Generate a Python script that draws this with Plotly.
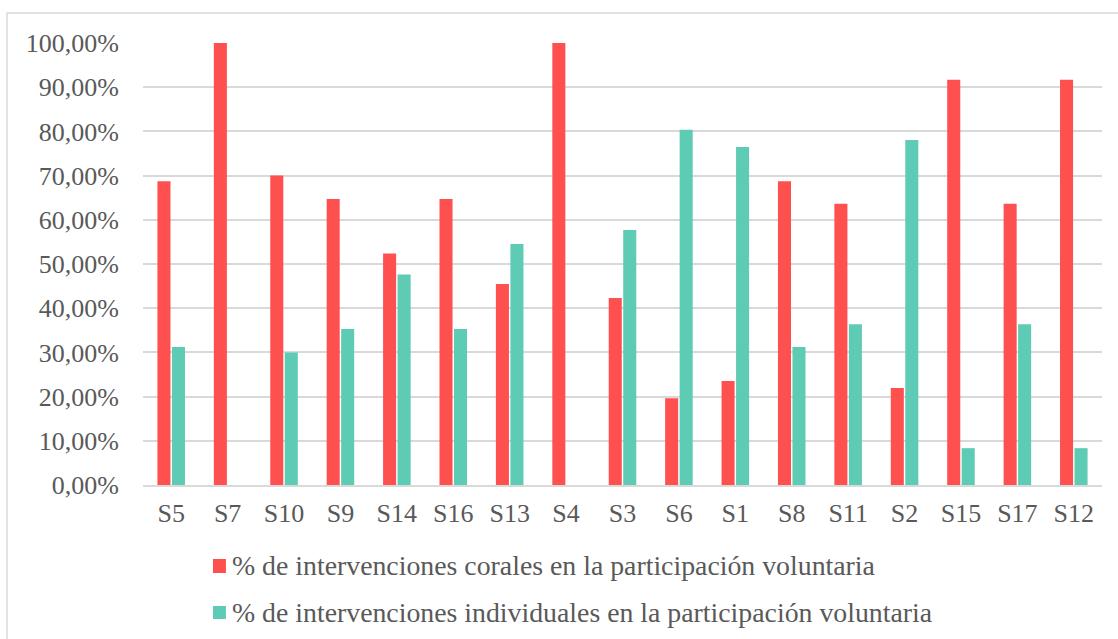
import plotly.graph_objects as go

categorias = ["S5", "S7", "S10", "S9", "S14", "S16", "S13", "S4", "S3",
              "S6", "S1", "S8", "S11", "S2", "S15", "S17", "S12"]
corales = [68.75, 100.0, 70.0, 64.71, 52.38, 64.71, 45.45, 100.0, 42.31,
           19.61, 23.53, 68.75, 63.64, 21.95, 91.67, 63.64, 91.67]
individuales = [31.25, 0.0, 30.0, 35.29, 47.62, 35.29, 54.55, 0.0, 57.69,
                80.39, 76.47, 31.25, 36.36, 78.05, 8.33, 36.36, 8.33]
nombres = ["% de intervenciones corales en la participación voluntaria",
           "% de intervenciones individuales en la participación voluntaria"]
colores = ["#ff5050", "#5ecbb5"]
ticks_y = [0, 10, 20, 30, 40, 50, 60, 70, 80, 90, 100]
etiquetas_y = [f"{v},00%" for v in ticks_y]

FUENTE = "Liberation Serif"
GRIS = "#595959"

fig = go.Figure()
for valores, nombre, color in zip([corales, individuales], nombres, colores):
    fig.add_trace(go.Bar(x=categorias, y=valores, name=nombre,
                         marker=dict(color=color, line=dict(width=0)),
                         showlegend=False))

# Leyenda dibujada a mano: cuadro de color + texto, una fila por serie
formas = [dict(type="rect", xref="paper", yref="paper",
               x0=-0.1418, x1=1.5, y0=-1.0, y1=1.0679,
               line=dict(color="#d9d9d9", width=1.5), fillcolor="rgba(0,0,0,0)",
               layer="below")]
anotaciones = []
filas_y = [(-0.1674, -0.1991), (-0.2738, -0.3032)]
for (y0, y1), nombre, color in zip(filas_y, nombres, colores):
    formas.append(dict(type="rect", xref="paper", yref="paper",
                       x0=0.0730, x1=0.0865, y0=y1, y1=y0,
                       line=dict(width=0), fillcolor=color))
    anotaciones.append(dict(xref="paper", yref="paper", x=0.0905, y=(y0 + y1) / 2,
                            xanchor="left", yanchor="middle", showarrow=False,
                            text=nombre,
                            font=dict(family=FUENTE, size=27.8, color=GRIS)))

fig.update_layout(
    width=1118, height=639,
    margin=dict(l=143, r=16, t=43, b=154, autoexpand=False),
    paper_bgcolor="white", plot_bgcolor="white",
    barmode="group", bargap=0.486, bargroupgap=0.1,
    font=dict(family=FUENTE, size=26, color=GRIS),
    showlegend=False,
    xaxis=dict(showgrid=False, showline=True, linecolor="#d9d9d9", linewidth=1.5,
               ticks="", ticklabelstandoff=4,
               tickfont=dict(family=FUENTE, size=26, color=GRIS)),
    yaxis=dict(range=[0, 100], tickvals=ticks_y, ticktext=etiquetas_y,
               showgrid=True, gridcolor="#d9d9d9", gridwidth=1.5,
               zeroline=False, showline=False, ticks="", ticklen=0,
               ticklabelstandoff=23,
               tickfont=dict(family=FUENTE, size=26, color=GRIS)),
    shapes=formas,
    annotations=anotaciones,
)

fig.write_html("out.html")
